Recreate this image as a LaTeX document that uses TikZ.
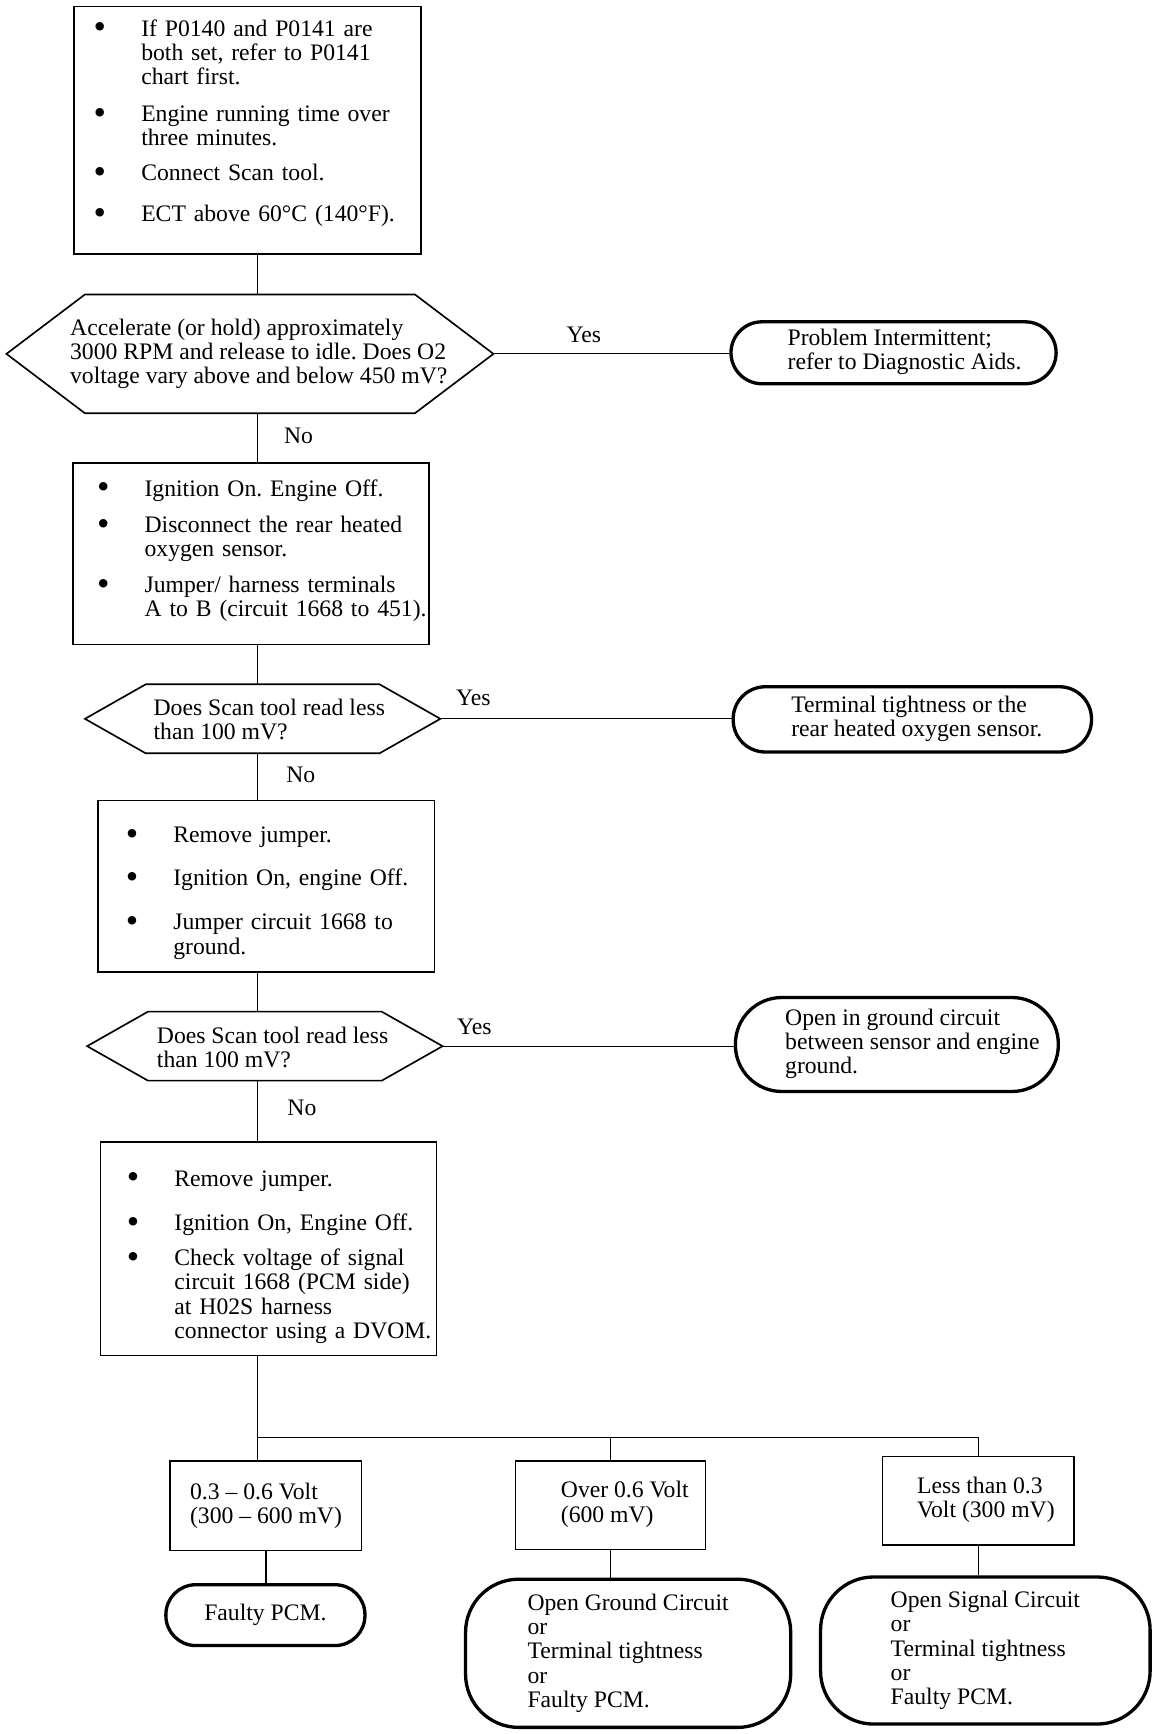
\documentclass[tikz,border=0pt]{standalone}
\usepackage{fontspec}
\setmainfont{Liberation Serif}
\usepackage{array}
\newcommand{\blt}{\raisebox{-2.5pt}{\scalebox{1.5}{\textbullet}}}
\newcommand{\lft}[2]{\begin{tabular}{@{\hspace{#1}}l@{}}#2\end{tabular}}
\frenchspacing

\begin{document}
\begin{tikzpicture}[x=1pt, y=-1pt,
    txt/.style={font=\fontsize{21.4}{22}\selectfont},
    stepbox/.style={txt, rectangle, draw, line width=1.5pt, anchor=north west,
                    align=left, inner ysep=0pt},
    query/.style={txt, inner sep=0pt, align=left},
    answer/.style={txt, draw, line width=3pt, align=left, inner sep=0pt},
    rangebox/.style={txt, draw, line width=1.5pt, align=left, inner sep=0pt},
    link/.style={line width=1.1pt},
    hexline/.style={line width=1.5pt, line join=miter}]
    \useasboundingbox (0,0) rectangle (1056,1568);
    \node[stepbox, minimum width=314pt, minimum height=224pt, inner xsep=18pt, text width=278pt] (b1) at (66,5) {%
      \begin{tabular}{@{}p{43pt}@{}l@{}}
      \blt & If P0140 and P0141 are\\
           & both set, refer to P0141\\
           & chart first.\\[11pt]
      \blt & Engine running time over\\
           & three minutes.\\[10pt]
      \blt & Connect Scan tool.\\[15pt]
      \blt & ECT above 60°C (140°F).\\[11pt]
      \end{tabular}};
    \node[query, minimum width=440pt, minimum height=107pt] (q1) at (226,320)
      {\lft{16pt}{\rule{0pt}{17pt}Accelerate (or hold) approximately\\3000 RPM and release to idle. Does O2\\voltage vary above and below 450 mV?}};
    \node[stepbox, minimum width=322pt, minimum height=164pt, inner xsep=22pt, text width=278pt] (b2) at (65,418) {%
      \begin{tabular}{@{}p{43pt}@{}l@{}}
      \blt & Ignition On. Engine Off.\\[11pt]
      \blt & Disconnect the rear heated\\
           & oxygen sensor.\\[10pt]
      \blt & Jumper/ harness terminals\\
           & A to B (circuit 1668 to 451).\\[4pt]
      \end{tabular}};
    \node[query, minimum width=321pt, minimum height=62pt] (q2) at (237.5,650)
      {\lft{12pt}{\rule{0pt}{22pt}Does Scan tool read less\\than 100 mV?}};
    \node[stepbox, minimum width=304pt, minimum height=155pt, inner xsep=25pt, text width=254pt] (b3) at (88,723) {%
      \begin{tabular}{@{}p{43pt}@{}l@{}}
      \blt & \rule{0pt}{29pt}Remove jumper.\\[17pt]
      \blt & Ignition On, engine Off.\\[18pt]
      \blt & Jumper circuit 1668 to\\
           & ground.
      \end{tabular}};
    \node[query, minimum width=321pt, minimum height=62pt] (q3) at (239.5,946)
      {\lft{14pt}{\rule{0pt}{24pt}Does Scan tool read less\\than 100 mV?}};
    \node[stepbox, minimum width=304pt, minimum height=193pt, inner xsep=24pt, text width=256pt] (b4) at (90,1032) {%
      \begin{tabular}{@{}p{43pt}@{}l@{}}
      \blt & \rule{0pt}{31pt}Remove jumper.\\[18pt]
      \blt & Ignition On, Engine Off.\\[10pt]
      \blt & Check voltage of signal\\
           & circuit 1668 (PCM side)\\
           & at H02S harness\\
           & connector using a DVOM.
      \end{tabular}};
    % hexagons round the questions
    \foreach \n/\d in {q1/71, q2/55, q3/55}
      \draw[hexline] (\n.west) -- ([shift={(\d,0)}]\n.north west) -- ([shift={(-\d,0)}]\n.north east)
        -- (\n.east) -- ([shift={(-\d,0)}]\n.south east) -- ([shift={(\d,0)}]\n.south west) -- cycle;
    % answers
    \node[answer, minimum width=294pt, minimum height=56pt, rounded corners=28pt] (a1) at (808,319)
      {\lft{20pt}{Problem Intermittent;\\refer to Diagnostic Aids.}};
    \node[answer, minimum width=324pt, minimum height=59pt, rounded corners=29pt] (a2) at (825,650.5)
      {\lft{8pt}{Terminal tightness or the\\rear heated oxygen sensor.}};
    \node[answer, minimum width=292pt, minimum height=85pt, rounded corners=42pt] (a3) at (811,944.5)
      {\lft{28pt}{Open in ground circuit\\between sensor and engine\\ground.}};
    \node[rangebox, minimum width=173pt, minimum height=81pt] (r1) at (240.5,1361.5) {0.3 – 0.6 Volt\\(300 – 600 mV)};
    \node[rangebox, minimum width=172pt, minimum height=80pt] (r2) at (552,1361) {\lft{26pt}{Over 0.6 Volt\\(600 mV)}};
    \node[rangebox, minimum width=173pt, minimum height=80pt] (r3) at (884.5,1357) {\lft{14pt}{Less than 0.3\\Volt (300 mV)}};
    \node[answer, minimum width=180pt, minimum height=55pt, rounded corners=27pt] (a5) at (240,1460.5) {Faulty PCM.};
    \node[answer, minimum width=294pt, minimum height=134pt, rounded corners=48pt] (a6) at (568,1495)
      {Open Ground Circuit\\or\\Terminal tightness\\or\\Faulty PCM.};
    \node[answer, minimum width=298pt, minimum height=133pt, rounded corners=48pt] (a7) at (891,1492.5)
      {Open Signal Circuit\\or\\Terminal tightness\\or\\Faulty PCM.};
    \node[txt] (y1) at (528,303) {Yes};
    \node[txt] (y2) at (428,631) {Yes};
    \node[txt] (y3) at (429,929) {Yes};
    \node[txt] (n1) at (270,394) {No};
    \node[txt] (n2) at (272,701) {No};
    \node[txt] (n3) at (273,1002) {No};
    % connectors
    \coordinate (spine) at (233,0);
    \coordinate (split) at (233,1300);
    \foreach \u/\v in {b1/q1, q1/b2, b2/q2, q2/b3, b3/q3, q3/b4, b4/r1}
      \draw[link] (\u.south -| spine) -- (\v.north -| spine);
    \draw[link] (split) -| (r3.north);
    \draw[link] (split -| r2.north) -- (r2.north);
    \foreach \u/\v in {r1/a5, r2/a6, r3/a7}
      \draw[link] (\u.south) -- (\u.south |- \v.north);
    \foreach \u/\v in {q1/a1, q2/a2, q3/a3}
      \draw[link] (\u.east) -- (\u.east -| \v.west);
\end{tikzpicture}
\end{document}
